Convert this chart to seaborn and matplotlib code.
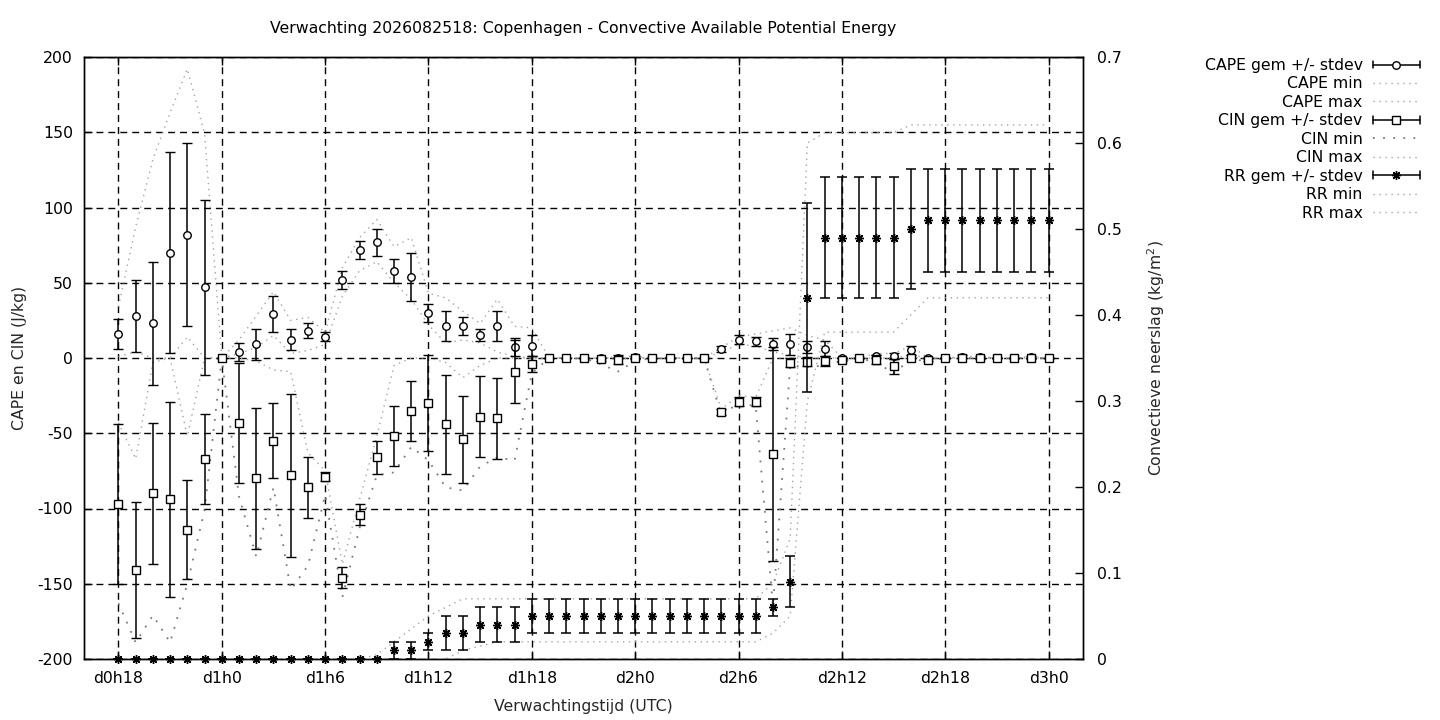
import matplotlib
matplotlib.use("Agg")
import matplotlib.pyplot as plt
import numpy as np
import pandas as pd
import seaborn as sns
from matplotlib.lines import Line2D
from matplotlib.legend_handler import HandlerBase

# ---------------- data (hourly, d0h18 .. d3h0) ----------------
HOURS = [18, 19, 20, 21, 22, 23, 24, 25, 26, 27, 28, 29, 30, 31, 32, 33, 34, 35,
         36, 37, 38, 39, 40, 41, 42, 43, 44, 45, 46, 47, 48, 49, 50, 51, 52, 53,
         54, 55, 56, 57, 58, 59, 60, 61, 62, 63, 64, 65, 66, 67, 68, 69, 70, 71, 72]

CAPE_MEAN = [16, 28, 23, 70, 82, 47,
             0, 4, 9, 29, 12, 18,
             14, 52, 72, 77, 58, 54,
             30, 21, 21, 15, 21, 7,
             8, 0, 0, 0, 0, 0,
             0.5, 0, 0, 0, 0, 6,
             12, 11, 9, 9, 7, 6,
             0, 0, 1, 1.5, 5, 0,
             0, 0.7, 0.5, 0, 0, 0.5,
             0]
CAPE_SD = [10, 24, 41, 67, 61, 58,
           0, 6, 10, 12, 7, 5,
           3, 6, 6, 9, 8, 16,
           6, 10, 6, 4, 10, 6,
           7, 0, 0, 0, 0, 0,
           1, 0, 0, 0, 0, 2,
           3, 3, 4, 7, 4, 5,
           0, 0, 1, 2, 3, 0,
           0, 1, 1, 0, 0, 1,
           0]
CAPE_MIN = [1, 4, 0, 0, 14, 0,
            0, 3, 7, 15, 3, 5,
            9, 41, 58, 64, 50, 39,
            22, 10, 12, 10, 4, 1,
            0, 0, 0, 0, 0, 0,
            0, 0, 0, 0, 0, 4,
            9, 8, 4, 2, 0, 0,
            0, 0, 0, 0, 2, 0,
            0, 0, 0, 0, 0, 0,
            0]
CAPE_MAX = [34, 87, 132, 163, 192, 149,
            0, 12, 28, 44, 25, 27,
            17, 60, 80, 92, 74, 80,
            43, 40, 31, 23, 39, 21,
            20, 0, 0, 0, 0, 1,
            1, 0, 0, 0, 0, 7,
            14, 16, 18, 20, 15, 12,
            0, 0, 3, 3, 8, 0,
            0, 1, 1, 0, 0, 1,
            0]

CIN_MEAN = [-97, -141, -90, -94, -114, -67,
            0, -43, -80, -55, -78, -86,
            -79, -146, -104, -66, -52, -35,
            -30, -44, -54, -39, -40, -9,
            -4, 0, 0, 0, -0.7, -1,
            0, 0, 0, 0, 0, -36,
            -29, -29, -64, -3, -2.4, -2,
            -1, 0, -1, -5.5, 0, -1,
            0, 0, 0, 0, 0, 0,
            0]
CIN_SD = [53, 45, 47, 65, 33, 30,
          0, 40, 47, 25, 54, 20,
          3, 7, 7, 11, 20, 20,
          32, 33, 29, 27, 27, 21,
          5, 0, 0, 0, 1, 3,
          0, 0, 0, 0, 0, 2,
          3, 3, 71, 3, 3, 3,
          1, 0, 3, 5, 0, 1,
          0, 0, 0, 0, 0, 0,
          0]
CIN_MIN = [-163, -189, -171, -189, -150, -101,
           0, -92, -132, -86, -154, -138,
           -91, -159, -113, -78, -76, -59,
           -68, -86, -88, -72, -66, -68,
           -10, 0, 0, 0, -4, -9,
           -2, 0, 0, 0, 0, -38,
           -30, -32, -165, -5, -6, -5,
           -2, 0, -3, -10, -1, -2,
           0, 0, 0, 0, 0, 0,
           0]
CIN_MAX = [-43, -67, -3, 0, -52, 0,
           0, 0, -2, -8, -9, -63,
           -75, -137, -94, -52, -5, 0,
           0, -3, -13, -5, 0, 0,
           0, 0, 0, 0, 0, 0,
           0, 0, 0, 0, 0, -34,
           -25, -26, 0, 0, 0, 0,
           0, 0, 0, -1, 0, 0,
           0, 0, 0, 0, 0, 0,
           0]

RR_MEAN = [0, 0, 0, 0, 0, 0,
           0, 0, 0, 0, 0, 0,
           0, 0, 0, 0, 0.01, 0.01,
           0.02, 0.03, 0.03, 0.04, 0.04, 0.04,
           0.05, 0.05, 0.05, 0.05, 0.05, 0.05,
           0.05, 0.05, 0.05, 0.05, 0.05, 0.05,
           0.05, 0.05, 0.06, 0.09, 0.42, 0.49,
           0.49, 0.49, 0.49, 0.49, 0.50, 0.51,
           0.51, 0.51, 0.51, 0.51, 0.51, 0.51,
           0.51]
RR_SD = [0, 0, 0, 0, 0, 0,
         0, 0, 0, 0, 0, 0,
         0, 0, 0, 0, 0.01, 0.01,
         0.01, 0.02, 0.02, 0.02, 0.02, 0.02,
         0.02, 0.02, 0.02, 0.02, 0.02, 0.02,
         0.02, 0.02, 0.02, 0.02, 0.02, 0.02,
         0.02, 0.02, 0.01, 0.03, 0.11, 0.07,
         0.07, 0.07, 0.07, 0.07, 0.07, 0.06,
         0.06, 0.06, 0.06, 0.06, 0.06, 0.06,
         0.06]
RR_MIN = [0, 0, 0, 0, 0, 0,
          0, 0, 0, 0, 0, 0,
          0, 0, 0, 0, 0, 0,
          0, 0, 0.01, 0.015, 0.02, 0.02,
          0.02, 0.02, 0.02, 0.02, 0.02, 0.02,
          0.02, 0.02, 0.02, 0.02, 0.02, 0.02,
          0.02, 0.02, 0.03, 0.05, 0.30, 0.38,
          0.38, 0.38, 0.38, 0.38, 0.40, 0.42,
          0.42, 0.42, 0.42, 0.42, 0.42, 0.42,
          0.42]
RR_MAX = [0, 0, 0, 0, 0, 0,
          0, 0, 0, 0, 0, 0,
          0, 0, 0, 0.005, 0.02, 0.035,
          0.05, 0.06, 0.07, 0.07, 0.07, 0.07,
          0.07, 0.07, 0.07, 0.07, 0.07, 0.07,
          0.07, 0.07, 0.07, 0.07, 0.07, 0.07,
          0.07, 0.07, 0.088, 0.14, 0.60, 0.612,
          0.612, 0.612, 0.612, 0.612, 0.621, 0.621,
          0.621, 0.621, 0.621, 0.621, 0.621, 0.621,
          0.621]

XTICK_HOURS = [18, 24, 30, 36, 42, 48, 54, 60, 66, 72]
XTICK_LABELS = ["d0h18", "d1h0", "d1h6", "d1h12", "d1h18",
                "d2h0", "d2h6", "d2h12", "d2h18", "d3h0"]
YTICKS = [-200, -150, -100, -50, 0, 50, 100, 150, 200]
YTICK_LABELS = ["-200", "-150", "-100", "-50", "0", "50", "100", "150", "200"]
Y2TICKS = [0, 0.1, 0.2, 0.3, 0.4, 0.5, 0.6, 0.7]
Y2TICK_LABELS = ["0", "0.1", "0.2", "0.3", "0.4", "0.5", "0.6", "0.7"]

TITLE = "Verwachting 2026082518: Copenhagen - Convective Available Potential Energy"
LABELS = ["CAPE gem +/- stdev", "CAPE min", "CAPE max",
          "CIN gem +/- stdev", "CIN min", "CIN max",
          "RR gem +/- stdev", "RR min", "RR max"]

df = pd.DataFrame({
    "hour": HOURS,
    "cape_mean": CAPE_MEAN, "cape_sd": CAPE_SD, "cape_min": CAPE_MIN, "cape_max": CAPE_MAX,
    "cin_mean": CIN_MEAN, "cin_sd": CIN_SD, "cin_min": CIN_MIN, "cin_max": CIN_MAX,
    "rr_mean": RR_MEAN, "rr_sd": RR_SD, "rr_min": RR_MIN, "rr_max": RR_MAX,
})

# ---------------- style ----------------
FS = 11.3
sns.set_style("white")
plt.rcParams.update({
    "font.family": ["DejaVu Sans"],
    "font.size": FS,
    "axes.unicode_minus": False,
    "axes.edgecolor": "black",
    "axes.linewidth": 1.0,
    "text.color": "black",
    "xtick.color": "black",
    "ytick.color": "black",
})

LIGHT = "#a4a4a4"
DARK_DOT = "#7a7a7a"
DOT = (0, (1, 3.3))
SPARSE_DOT = (0, (1, 4.6))
ERR_KW = dict(ecolor="black", elinewidth=1.1, capsize=3.6, capthick=1.1,
              linestyle="none", mec="black", mew=1.0)

fig = plt.figure(figsize=(14.4, 7.2), dpi=100)
ax = fig.add_axes([84 / 1440, 1 - 659 / 720, (1083 - 84) / 1440, (659 - 57) / 720])
ax2 = ax.twinx()

# grid
ax.set_axisbelow(True)
ax.grid(True, color="black", linestyle=(0, (5, 3.6)), linewidth=1.0)

# CAPE
ax.errorbar(df["hour"], df["cape_mean"], yerr=df["cape_sd"], fmt="o", ms=5.4,
            mfc="white", zorder=3, **ERR_KW)
sns.lineplot(data=df, x="hour", y="cape_min", ax=ax, color=LIGHT, linestyle=DOT,
             linewidth=1.0, legend=False, errorbar=None, sort=False)
l_cape_min = ax.get_lines()[-1]
sns.lineplot(data=df, x="hour", y="cape_max", ax=ax, color=LIGHT, linestyle=DOT,
             linewidth=1.0, legend=False, errorbar=None, sort=False)
l_cape_max = ax.get_lines()[-1]

# CIN
ax.errorbar(df["hour"], df["cin_mean"], yerr=df["cin_sd"], fmt="s", ms=6.0,
            mfc="white", zorder=3.5, **ERR_KW)
sns.lineplot(data=df, x="hour", y="cin_min", ax=ax, color=DARK_DOT, linestyle=SPARSE_DOT,
             linewidth=1.3, legend=False, errorbar=None, sort=False)
l_cin_min = ax.get_lines()[-1]
sns.lineplot(data=df, x="hour", y="cin_max", ax=ax, color=LIGHT, linestyle=DOT,
             linewidth=1.0, legend=False, errorbar=None, sort=False)
l_cin_max = ax.get_lines()[-1]

# RR on secondary axis
ax2.errorbar(df["hour"], df["rr_mean"], yerr=df["rr_sd"], fmt="none", zorder=3,
             ecolor="black", elinewidth=1.1, capsize=3.6, capthick=1.1)
ax2.plot(df["hour"], df["rr_mean"], linestyle="none", marker=(8, 2, 0), ms=6.4,
         mec="black", mew=1.0, zorder=4, clip_on=False)
sns.lineplot(data=df, x="hour", y="rr_min", ax=ax2, color=LIGHT, linestyle=DOT,
             linewidth=1.0, legend=False, errorbar=None, sort=False)
l_rr_min = ax2.get_lines()[-1]
sns.lineplot(data=df, x="hour", y="rr_max", ax=ax2, color=LIGHT, linestyle=DOT,
             linewidth=1.0, legend=False, errorbar=None, sort=False)
l_rr_max = ax2.get_lines()[-1]

# axes limits / ticks
ax.set_xlim(16, 74)
ax.set_ylim(-200, 200)
ax2.set_ylim(0, 0.7)
ax.set_xticks(XTICK_HOURS)
ax.set_xticklabels(XTICK_LABELS)
ax.set_yticks(YTICKS)
ax.set_yticklabels(YTICK_LABELS)
ax2.set_yticks(Y2TICKS)
ax2.set_yticklabels(Y2TICK_LABELS)
ax.tick_params(axis="x", direction="in", length=6, width=1, top=True, bottom=True,
               pad=8.5, labelsize=FS)
ax.tick_params(axis="y", direction="in", length=6, width=1, left=True, right=False,
               pad=8, labelsize=FS)
ax2.tick_params(axis="y", direction="in", length=6, width=1, right=True,
                pad=10, labelsize=FS)
for a in (ax, ax2):
    for s in a.spines.values():
        s.set_color("black")
        s.set_linewidth(1.0)

ax.set_xlabel("Verwachtingstijd (UTC)", fontsize=FS)
ax.xaxis.set_label_coords(0.5, -0.066)
ax.set_ylabel("CAPE en CIN (J/kg)", fontsize=FS)
ax.yaxis.set_label_coords(-0.057, 0.5)
ax2.set_ylabel("Convectieve neerslag (kg/m$^2$)", fontsize=FS)
ax2.yaxis.set_label_coords(1.062, 0.5)

fig.text(583.5 / 1440, 1 - 29 / 720, TITLE, ha="center", va="center", fontsize=FS)


# legend with gnuplot-like errorbar keys
class ErrbarKey:
    def __init__(self, marker, size, mew=1.0):
        self.marker = marker
        self.size = size
        self.mew = mew


class ErrbarKeyHandler(HandlerBase):
    def create_artists(self, legend, orig_handle, xdescent, ydescent, width, height,
                       fontsize, trans):
        yc = height / 2.0 - ydescent
        x0 = -xdescent
        x1 = -xdescent + width
        cap = 2.8
        arts = [
            Line2D([x0, x1], [yc, yc], color="black", lw=1.1),
            Line2D([x0, x0], [yc - cap, yc + cap], color="black", lw=1.1),
            Line2D([x1, x1], [yc - cap, yc + cap], color="black", lw=1.1),
            Line2D([(x0 + x1) / 2.0], [yc], linestyle="none", marker=orig_handle.marker,
                   ms=orig_handle.size, mfc="white", mec="black", mew=orig_handle.mew),
        ]
        for a in arts:
            a.set_transform(trans)
        return arts


handles = [ErrbarKey("o", 5.4), l_cape_min, l_cape_max,
           ErrbarKey("s", 6.0), l_cin_min, l_cin_max,
           ErrbarKey((8, 2, 0), 6.4, 1.0), l_rr_min, l_rr_max]
fig.legend(handles, LABELS, loc="upper right", bbox_to_anchor=(1420 / 1440, 1 - 58 / 720),
           markerfirst=False, frameon=False, handlelength=3.0, handletextpad=0.65,
           labelspacing=0.22, borderaxespad=0, borderpad=0, fontsize=FS,
           handler_map={ErrbarKey: ErrbarKeyHandler()})

fig.savefig("out.png", dpi=100)
